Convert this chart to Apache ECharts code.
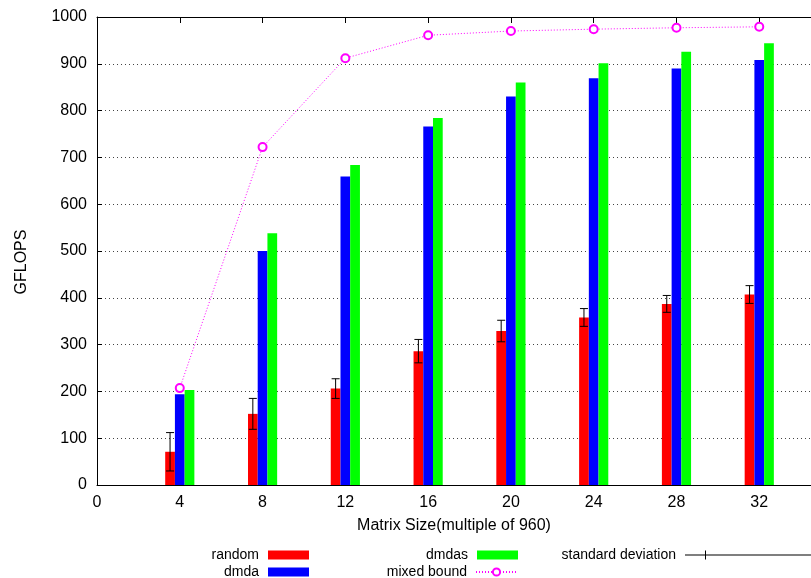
<!DOCTYPE html>
<html>
<head>
<meta charset="utf-8">
<script src="https://cdn.jsdelivr.net/npm/echarts@6/dist/echarts.min.js"></script>
<style>
html,body{margin:0;padding:0;background:#fff;}
#chart{width:811px;height:578px;}
</style>
</head>
<body>
<div id="chart"></div>
<script>
// Data
const matrixSizes = [4, 8, 12, 16, 20, 24, 28, 32];
const randomVals = [71, 152, 206, 286, 329, 358, 387, 407];
const randomStd = [41, 33, 21, 25, 23, 19, 18, 19];
const dmdaVals = [194, 500, 659, 766, 830, 869, 890, 908];
const dmdasVals = [203, 538, 684, 784, 860, 901, 926, 944];
const mixedBound = [207, 722, 912, 961, 970, 974, 977, 979];
const xTickValues = [0, 4, 8, 12, 16, 20, 24, 28, 32];
const yTickValues = [0, 100, 200, 300, 400, 500, 600, 700, 800, 900, 1000];

const FONT = 'Liberation Sans';
const BAR_W = 0.47;

function barRenderer(offset, color) {
  return function (params, api) {
    const x = api.value(0), y = api.value(1);
    const p0 = api.coord([x + offset - BAR_W / 2, y]);
    const p1 = api.coord([x + offset + BAR_W / 2, 0]);
    return {
      type: 'rect',
      shape: { x: p0[0], y: p0[1], width: p1[0] - p0[0], height: p1[1] - p0[1] },
      style: { fill: color }
    };
  };
}

function errRenderer(offset) {
  return function (params, api) {
    const x = api.value(0) + offset, c = api.value(1), s = api.value(2);
    const top = api.coord([x, c + s]);
    const bot = api.coord([x, c - s]);
    const cap = 4;
    const st = { stroke: '#000', lineWidth: 1 };
    return {
      type: 'group',
      children: [
        { type: 'line', shape: { x1: top[0], y1: top[1], x2: bot[0], y2: bot[1] }, style: st },
        { type: 'line', shape: { x1: top[0] - cap, y1: top[1], x2: top[0] + cap, y2: top[1] }, style: st },
        { type: 'line', shape: { x1: bot[0] - cap, y1: bot[1], x2: bot[0] + cap, y2: bot[1] }, style: st }
      ]
    };
  };
}

const randomData = matrixSizes.map((x, i) => [x, randomVals[i]]);
const dmdaData = matrixSizes.map((x, i) => [x, dmdaVals[i]]);
const dmdasData = matrixSizes.map((x, i) => [x, dmdasVals[i]]);
const mixedData = matrixSizes.map((x, i) => [x, mixedBound[i]]);
const errData = matrixSizes.map((x, i) => [x, randomVals[i], randomStd[i]]);

const legendText = { fontFamily: FONT, fontSize: 14, color: '#000', padding: [0, 4, 0, 0] };
function legendAt(name, right, top, extra) {
  return Object.assign({
    data: [{ name: name, icon: 'rect' }], right: right, top: top, align: 'right', padding: 0,
    itemWidth: 41, itemHeight: 9, textStyle: legendText, selectedMode: false
  }, extra || {});
}

const chart = echarts.init(document.getElementById('chart'), null, { renderer: 'canvas' });
chart.setOption({
  animation: false,
  backgroundColor: '#fff',
  grid: { left: 97, right: 0, top: 17, bottom: 93, containLabel: false },
  xAxis: [{
    type: 'value', min: 0, max: 34.5,
    name: 'Matrix Size(multiple of 960)', nameLocation: 'middle', nameGap: 33,
    nameTextStyle: { fontFamily: FONT, fontSize: 16, color: '#000' },
    axisLine: { show: true, lineStyle: { color: '#000', width: 1 } },
    axisTick: { show: true, inside: true, length: 6, customValues: xTickValues, lineStyle: { color: '#000' } },
    axisLabel: { customValues: xTickValues, margin: 10, fontFamily: FONT, fontSize: 16, color: '#000' },
    splitLine: { show: false }
  }, {
    type: 'value', min: 0, max: 34.5, position: 'top',
    axisLine: { show: true, lineStyle: { color: '#000', width: 1 } },
    axisTick: { show: true, inside: true, length: 6, customValues: xTickValues, lineStyle: { color: '#000' } },
    axisLabel: { show: false },
    splitLine: { show: false }
  }],
  yAxis: {
    type: 'value', min: 0, max: 1000, interval: 100,
    name: 'GFLOPS', nameLocation: 'middle', nameGap: 67, nameRotate: 90,
    nameTextStyle: { fontFamily: FONT, fontSize: 16, color: '#000', padding: [0, 0, 0, -22] },
    axisLine: { show: true, lineStyle: { color: '#000', width: 1 } },
    axisTick: { show: true, inside: true, length: 5, lineStyle: { color: '#000' } },
    axisLabel: { margin: 10, fontFamily: FONT, fontSize: 16, color: '#000',
      formatter: v => yTickValues.indexOf(v) >= 0 ? String(v) : '' },
    splitLine: { show: true, lineStyle: { color: '#444', width: 1, type: [1, 3] } }
  },
  legend: [
    legendAt('random', 502, 548),
    legendAt('dmda', 502, 565),
    legendAt('dmdas', 293, 548),
    legendAt('mixed bound', 293, 565, { itemHeight: 9, data: [{ name: 'mixed bound' }] }),
    legendAt('standard deviation', 0, 548, {
      itemWidth: 126,
      data: [{ name: 'standard deviation', icon: 'path://M0,4h126v1h-126z M20,0h1v9h-1z', itemStyle: { color: '#000' } }]
    })
  ],
  series: [
    { name: 'random', type: 'custom', renderItem: barRenderer(-BAR_W, '#ff0000'),
      itemStyle: { color: '#ff0000' }, data: randomData, encode: { x: 0, y: 1 }, z: 2 },
    { name: 'dmda', type: 'custom', renderItem: barRenderer(0, '#0000ff'),
      itemStyle: { color: '#0000ff' }, data: dmdaData, encode: { x: 0, y: 1 }, z: 2 },
    { name: 'dmdas', type: 'custom', renderItem: barRenderer(BAR_W, '#00ff00'),
      itemStyle: { color: '#00ff00' }, data: dmdasData, encode: { x: 0, y: 1 }, z: 2 },
    { name: 'mixed bound', type: 'line', data: mixedData, symbol: 'emptyCircle', symbolSize: 8,
      lineStyle: { color: '#ff00ff', width: 1, type: [1, 2] },
      itemStyle: { color: '#ff00ff', borderColor: '#ff00ff', borderWidth: 1 }, z: 4 },
    { name: 'standard deviation', type: 'custom', renderItem: errRenderer(-BAR_W),
      itemStyle: { color: '#000' }, data: errData, encode: { x: 0, y: [1] }, z: 5 }
  ]
});
</script>
</body>
</html>
